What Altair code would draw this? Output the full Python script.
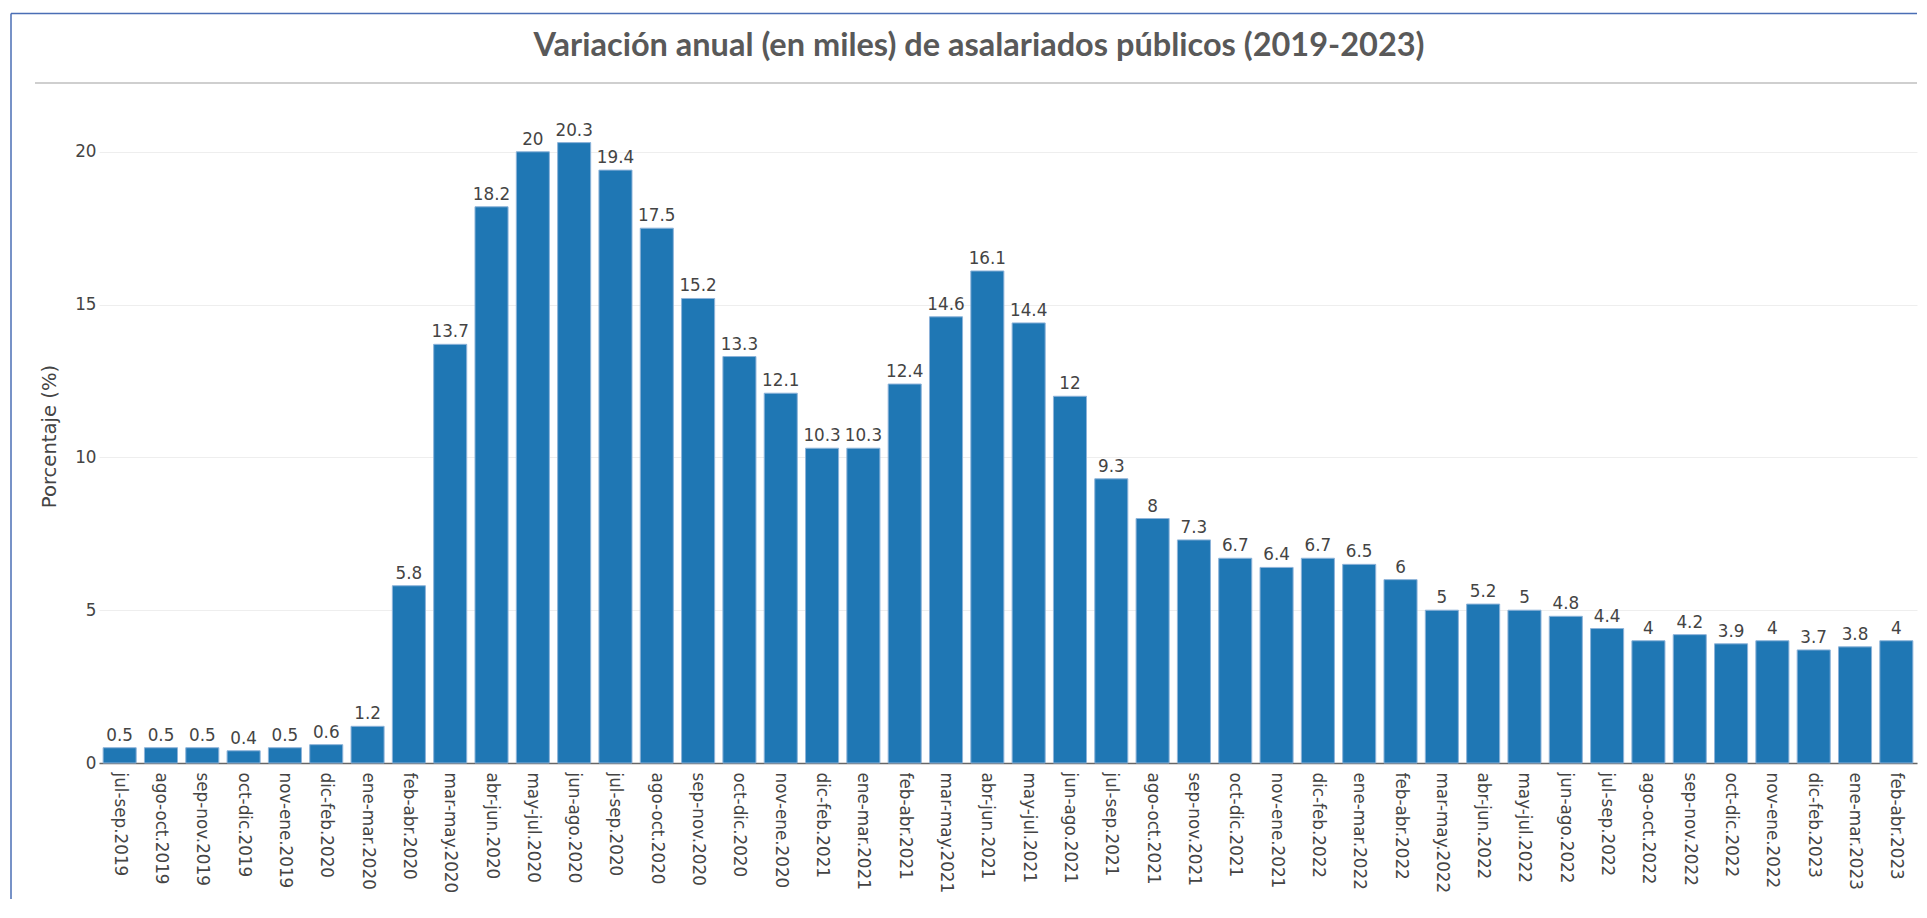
import altair as alt
import pandas as pd

periods = [
    "jul-sep.2019", "ago-oct.2019", "sep-nov.2019", "oct-dic.2019", "nov-ene.2019",
    "dic-feb.2020", "ene-mar.2020", "feb-abr.2020", "mar-may.2020", "abr-jun.2020",
    "may-jul.2020", "jun-ago.2020", "jul-sep.2020", "ago-oct.2020", "sep-nov.2020",
    "oct-dic.2020", "nov-ene.2020", "dic-feb.2021", "ene-mar.2021", "feb-abr.2021",
    "mar-may.2021", "abr-jun.2021", "may-jul.2021", "jun-ago.2021", "jul-sep.2021",
    "ago-oct.2021", "sep-nov.2021", "oct-dic.2021", "nov-ene.2021", "dic-feb.2022",
    "ene-mar.2022", "feb-abr.2022", "mar-may.2022", "abr-jun.2022", "may-jul.2022",
    "jun-ago.2022", "jul-sep.2022", "ago-oct.2022", "sep-nov.2022", "oct-dic.2022",
    "nov-ene.2022", "dic-feb.2023", "ene-mar.2023", "feb-abr.2023",
]
values = [
    0.5, 0.5, 0.5, 0.4, 0.5,
    0.6, 1.2, 5.8, 13.7, 18.2,
    20, 20.3, 19.4, 17.5, 15.2,
    13.3, 12.1, 10.3, 10.3, 12.4,
    14.6, 16.1, 14.4, 12, 9.3,
    8, 7.3, 6.7, 6.4, 6.7,
    6.5, 6, 5, 5.2, 5,
    4.8, 4.4, 4, 4.2, 3.9,
    4, 3.7, 3.8, 4,
]
y_ticks = [0, 5, 10, 15, 20]
title_text = "Variación anual (en miles) de asalariados públicos (2019-2023)"
y_title = "Porcentaje (%)"

df = pd.DataFrame({"periodo": periods, "valor": values})
one = pd.DataFrame({"t": [title_text]})

W = 1818
H = 654

x_enc = alt.X(
    "periodo:N",
    sort=periods,
    scale=alt.Scale(paddingInner=0.2, paddingOuter=0.1),
    axis=alt.Axis(
        title=None, labelAngle=90, labelFont="DejaVu Sans", labelFontSize=16.8,
        labelColor="#444444", labelPadding=9, ticks=False, tickSize=0,
        domainColor="#666666", domainWidth=1.5, grid=False, labelOverlap=False,
        labelLimit=400,
    ),
)
y_enc = alt.Y(
    "valor:Q",
    scale=alt.Scale(domain=[0, 21.4], nice=False, zero=True),
    axis=alt.Axis(
        title=y_title, values=y_ticks, labelFont="DejaVu Sans", labelFontSize=16.8,
        labelColor="#444444", labelPadding=3, ticks=False, tickSize=0, domain=False,
        grid=True, gridColor="#eeeeee", gridWidth=1,
        titleFont="DejaVu Sans", titleFontSize=19.6, titleFontWeight="normal",
        titleColor="#444444", titleX=-50, titleBaseline="middle",
    ),
)

bars = alt.Chart(df).mark_bar(color="#1f77b4", stroke="#8db3d9", strokeWidth=1).encode(
    x=x_enc, y=y_enc
)
labels = alt.Chart(df).mark_text(
    font="DejaVu Sans", fontSize=16.8, color="#444444", baseline="alphabetic", dy=-7
).encode(x=x_enc, y=y_enc, text=alt.Text("valor:Q", format="~g"))

border_left = alt.Chart(one).mark_rule(color="#4a6eb5", strokeWidth=1.5).encode(
    x=alt.value(-88), y=alt.value(-95.5), y2=alt.value(790)
)
border_top = alt.Chart(one).mark_rule(color="#4a6eb5", strokeWidth=1.5).encode(
    x=alt.value(-88), x2=alt.value(W), y=alt.value(-95.5)
)
separator = alt.Chart(one).mark_rule(color="#bfbfbf", strokeWidth=1.5).encode(
    x=alt.value(-64), x2=alt.value(W), y=alt.value(-26)
)
title = alt.Chart(one).mark_text(
    font="Lato", fontSize=32.5, fontWeight="bold", color="#595959",
    align="center", baseline="alphabetic",
).encode(x=alt.value(W / 2 - 29), y=alt.value(-53), text="t:N")

chart = alt.layer(bars, labels, border_left, border_top, separator, title).properties(
    width=W,
    height=H,
    padding={"left": 2, "top": 4, "right": 0, "bottom": 0},
    background="white",
).configure_view(stroke=None)

chart.save("out.html", embed_options={"renderer": "svg", "actions": False})
